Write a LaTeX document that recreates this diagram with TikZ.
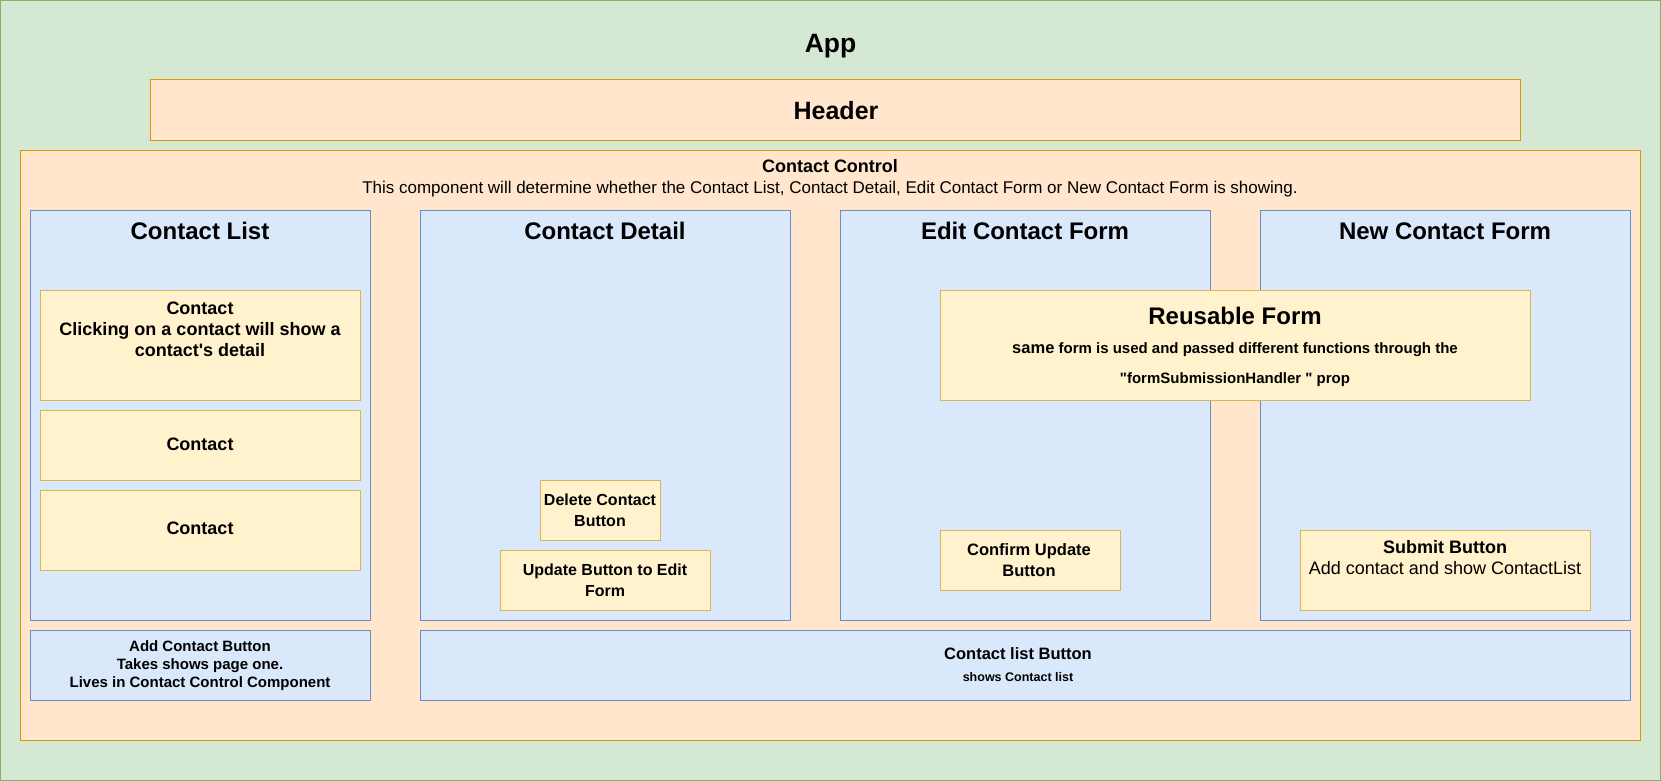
\documentclass[tikz,border=0pt]{standalone}
\usepackage{fontspec}
\setmainfont{Liberation Sans}
\newfontfamily\plainsans{Liberation Sans}
\usetikzlibrary{fit}
\definecolor{gfill}{HTML}{D5E8D4}
\definecolor{gline}{HTML}{82B366}
\definecolor{ofill}{HTML}{FFE6CC}
\definecolor{oline}{HTML}{D79B00}
\definecolor{bfill}{HTML}{DAE8FC}
\definecolor{bline}{HTML}{6C8EBF}
\definecolor{yfill}{HTML}{FFF2CC}
\definecolor{yline}{HTML}{D6B656}
\tikzset{
  bx/.style={inner sep=0pt, outer sep=0pt, line width=1pt},
  appbox/.style={bx, fill=gfill, draw=gline},
  orbox/.style={bx, fill=ofill, draw=oline},
  blbox/.style={bx, fill=bfill, draw=bline},
  yebox/.style={bx, fill=yfill, draw=yline},
  txt/.style={inner sep=0pt, align=center, text=black},
  big/.style={txt, font=\fontsize{24}{28}\selectfont\bfseries},
  mid/.style={txt, font=\plainsans\fontsize{18}{21}\selectfont\bfseries},
  btn/.style={txt, font=\fontsize{16}{21}\selectfont\bfseries},
}
\begin{document}
\begin{tikzpicture}[x=1pt, y=-1pt]
\useasboundingbox (0,0) rectangle (1661,781);
% boxes
\node[appbox, fit={(0.5,0.5)(1660.5,780.5)}] (app) {};
\node[orbox, fit={(150,80)(1520,140)}] (header) {};
\node[orbox, fit={(20,150)(1640,740)}] (ctrl) {};
\node[blbox, fit={(30,210)(370,620)}] (clist) {};
\node[blbox, fit={(420,210)(790,620)}] (cdetail) {};
\node[blbox, fit={(840,210)(1210,620)}] (cedit) {};
\node[blbox, fit={(1260,210)(1630,620)}] (cnew) {};
\node[yebox, fit={(40,290)(360,400)}] (c1) {};
\node[yebox, fit={(40,410)(360,480)}] (c2) {};
\node[yebox, fit={(40,490)(360,570)}] (c3) {};
\node[yebox, fit={(540,480)(660,540)}] (del) {};
\node[yebox, fit={(500,550)(710,610)}] (upd) {};
\node[yebox, fit={(940,530)(1120,590)}] (conf) {};
\node[yebox, fit={(1300,530)(1590,610)}] (sub) {};
\node[yebox, fit={(940,290)(1530,400)}] (reuse) {};
\node[blbox, fit={(30,630)(370,700)}] (addbtn) {};
\node[blbox, fit={(420,630)(1630,700)}] (listbtn) {};
% texts
\node[txt, font=\fontsize{26.5}{30}\selectfont\bfseries] (tapp) at (830.5,46.5) {App};
\node[txt, font=\fontsize{25}{30}\selectfont\bfseries] (thead) at (836,110.5) {Header};
\node[txt, font=\fontsize{18}{20}\selectfont\bfseries] (tctrl) at (830,166.5) {Contact Control};
\node[txt, font=\fontsize{17}{20}\selectfont] (tctrlsub) at (830,189.5) {This component will determine whether the Contact List, Contact Detail, Edit Contact Form or New Contact Form is showing.};
\node[big] (tclist) at (200,231) {Contact List};
\node[big] (tcdet) at (605,231) {Contact Detail};
\node[big] (tcedit) at (1025,231) {Edit Contact Form};
\node[big] (tcnew) at (1445,231) {New Contact Form};
\node[mid] (tc1) at (200,329) {Contact\\Clicking on a contact will show a\\contact's detail};
\node[mid] (tc2) at (200,444) {Contact};
\node[mid] (tc3) at (200,528.5) {Contact};
\node[btn] (tdel) at (600,510) {Delete Contact\\Button};
\node[btn] (tupd) at (605,580) {Update Button to Edit\\Form};
\node[txt, font=\fontsize{16.5}{21}\selectfont\bfseries] (tconf) at (1029,560) {Confirm Update\\Button};
\node[txt, font=\fontsize{18}{21.5}\selectfont] (tsub) at (1445,557.5) {\textbf{Submit Button}\\Add contact and show ContactList};
\node[big] (treuse) at (1235,316) {Reusable Form};
\node[txt, font=\plainsans\fontsize{15}{30}\selectfont\bfseries] (treusesub) at (1235,364.5) {{\fontsize{16.5}{30}\selectfont same} form is used and passed different functions through the\\"formSubmissionHandler " prop};
\node[txt, font=\fontsize{15}{18}\selectfont\bfseries] (tadd) at (200,666) {Add Contact Button\\Takes shows page one.\\Lives in Contact Control Component};
\node[txt, font=\fontsize{16.5}{22}\selectfont\bfseries] (tlist) at (1018,665) {Contact list Button\\{\fontsize{12.5}{16}\selectfont shows Contact list}};
\end{tikzpicture}
\end{document}
